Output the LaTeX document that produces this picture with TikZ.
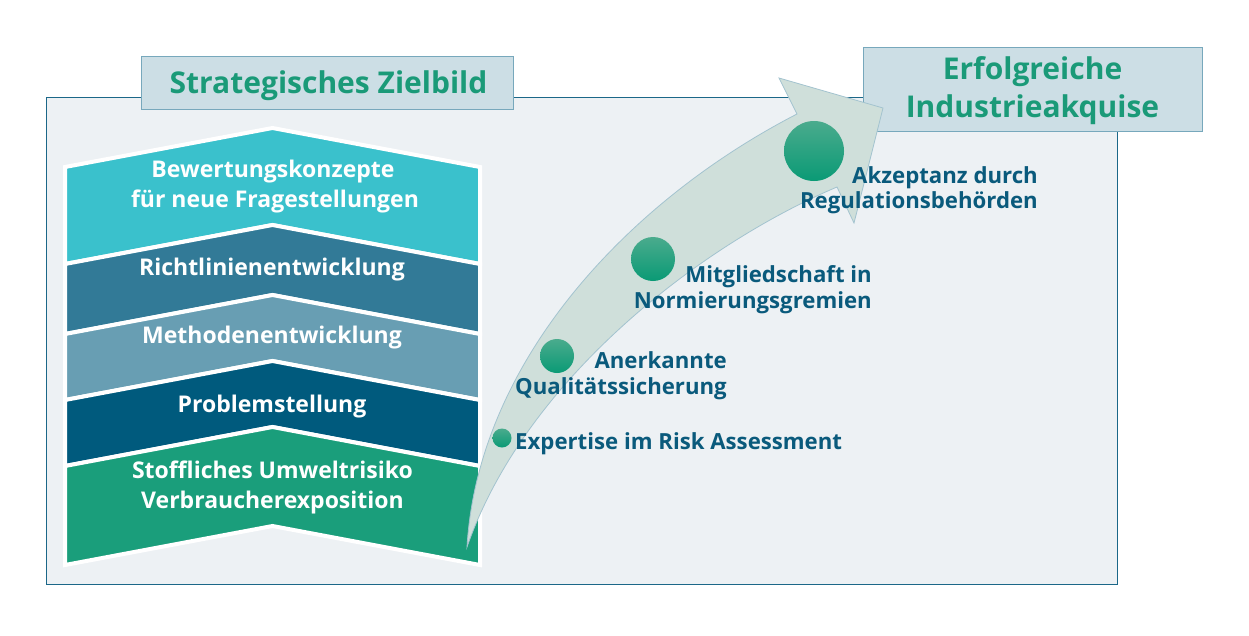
\documentclass[tikz,border=0pt]{standalone}
\usepackage{fontspec}
\setmainfont{Open Sans}
\definecolor{panelfill}{HTML}{EDF1F4}
\definecolor{panelline}{HTML}{1B6788}
\definecolor{tboxfill}{HTML}{CCDEE5}
\definecolor{tboxline}{HTML}{77A8BC}
\definecolor{titlegreen}{HTML}{1A9A78}
\definecolor{cA}{HTML}{3AC1CC}
\definecolor{cB}{HTML}{327A97}
\definecolor{cC}{HTML}{689EB3}
\definecolor{cD}{HTML}{005A7D}
\definecolor{cE}{HTML}{1A9E7B}
\definecolor{labelblue}{HTML}{0A5A7C}
\definecolor{arrowfill}{HTML}{CFDFDA}
\definecolor{arrowline}{HTML}{A3C3CF}
\definecolor{dottop}{HTML}{4AAB8D}
\definecolor{dotbot}{HTML}{0A9A75}
\begin{document}
\begin{tikzpicture}[x=1pt,y=-1pt,
  tbox/.style={draw=tboxline, fill=tboxfill, line width=1pt, inner sep=0pt},
  titletext/.style={text=titlegreen, font=\fontsize{30}{37}\selectfont\bfseries, inner sep=0pt},
  band/.style={draw=white, line width=4pt, line join=miter},
  bandtext/.style={text=white, font=\fontsize{23}{30}\selectfont\bfseries, inner sep=0pt, anchor=base},
  lbl/.style={text=labelblue, font=\fontsize{22.2}{26}\selectfont\bfseries, inner sep=0pt},
  dot/.style={circle, inner sep=0pt, draw=none, top color=dottop, bottom color=dotbot}
]
\useasboundingbox (0,0) rectangle (1249,635);
% panel
\draw[fill=panelfill, draw=panelline, line width=1pt] (46,97) rectangle (1117,584);
% title boxes
\node[tbox, minimum width=372pt, minimum height=53pt] (zbbox) at (327,82.5) {};
\node[titletext, anchor=base] (zbtext) at (328.5,93) {Strategisches Zielbild};
\node[tbox, minimum width=339pt, minimum height=84pt] (iabox) at (1032.5,89) {};
\node[titletext, anchor=base] (ia1) at (1032.5,79) {Erfolgreiche};
\node[titletext, anchor=base] (ia2) at (1032.5,117) {Industrieakquise};
% chevron bands
\newcommand{\chevband}[3]{%
  \filldraw[band, fill=#1] (65,#2+39) -- (272.5,#2) -- (480,#2+39) -- (480,#3+39) -- (272.5,#3) -- (65,#3+39) -- cycle;}
\chevband{cA}{128}{225}
\chevband{cB}{225}{295}
\chevband{cC}{295}{361}
\chevband{cD}{361}{427}
\chevband{cE}{427}{526}
\node[bandtext] (b1a) at (273,177) {Bewertungskonzepte};
\node[bandtext] (b1b) at (275,207) {für neue Fragestellungen};
\node[bandtext] (b2) at (272,275) {Richtlinienentwicklung};
\node[bandtext] (b3) at (272,343) {Methodenentwicklung};
\node[bandtext] (b4) at (272,412) {Problemstellung};
\node[bandtext] (b5a) at (272.5,478) {Stoffliches Umweltrisiko};
\node[bandtext] (b5b) at (272.5,508) {Verbraucherexposition};
% big curved arrow
\filldraw[fill=arrowfill, draw=arrowline, line width=0.8pt, line join=miter]
  (467,547) .. controls (478,360) and (630,200) .. (797,114)
  -- (779,78) -- (883,108) -- (854,223) -- (837,187)
  .. controls (700,245) and (525,380) .. (467,547) -- cycle;
% milestones
\node[dot, minimum size=19pt] (d1) at (502,438) {};
\node[dot, minimum size=34pt] (d2) at (557,356) {};
\node[dot, minimum size=44pt] (d3) at (653,259) {};
\node[dot, minimum size=60pt] (d4) at (814,151) {};
\node[lbl, anchor=base west] (l1) at (515,449) {Expertise im Risk Assessment};
\node[lbl, anchor=base east] (l2a) at (727,368) {Anerkannte};
\node[lbl, anchor=base east] (l2b) at (727,394) {Qualitätssicherung};
\node[lbl, anchor=base east] (l3a) at (872,282) {Mitgliedschaft in};
\node[lbl, anchor=base east] (l3b) at (872,308) {Normierungsgremien};
\node[lbl, anchor=base east] (l4a) at (1038,183) {Akzeptanz durch};
\node[lbl, anchor=base east] (l4b) at (1038,208) {Regulationsbehörden};
\end{tikzpicture}
\end{document}
